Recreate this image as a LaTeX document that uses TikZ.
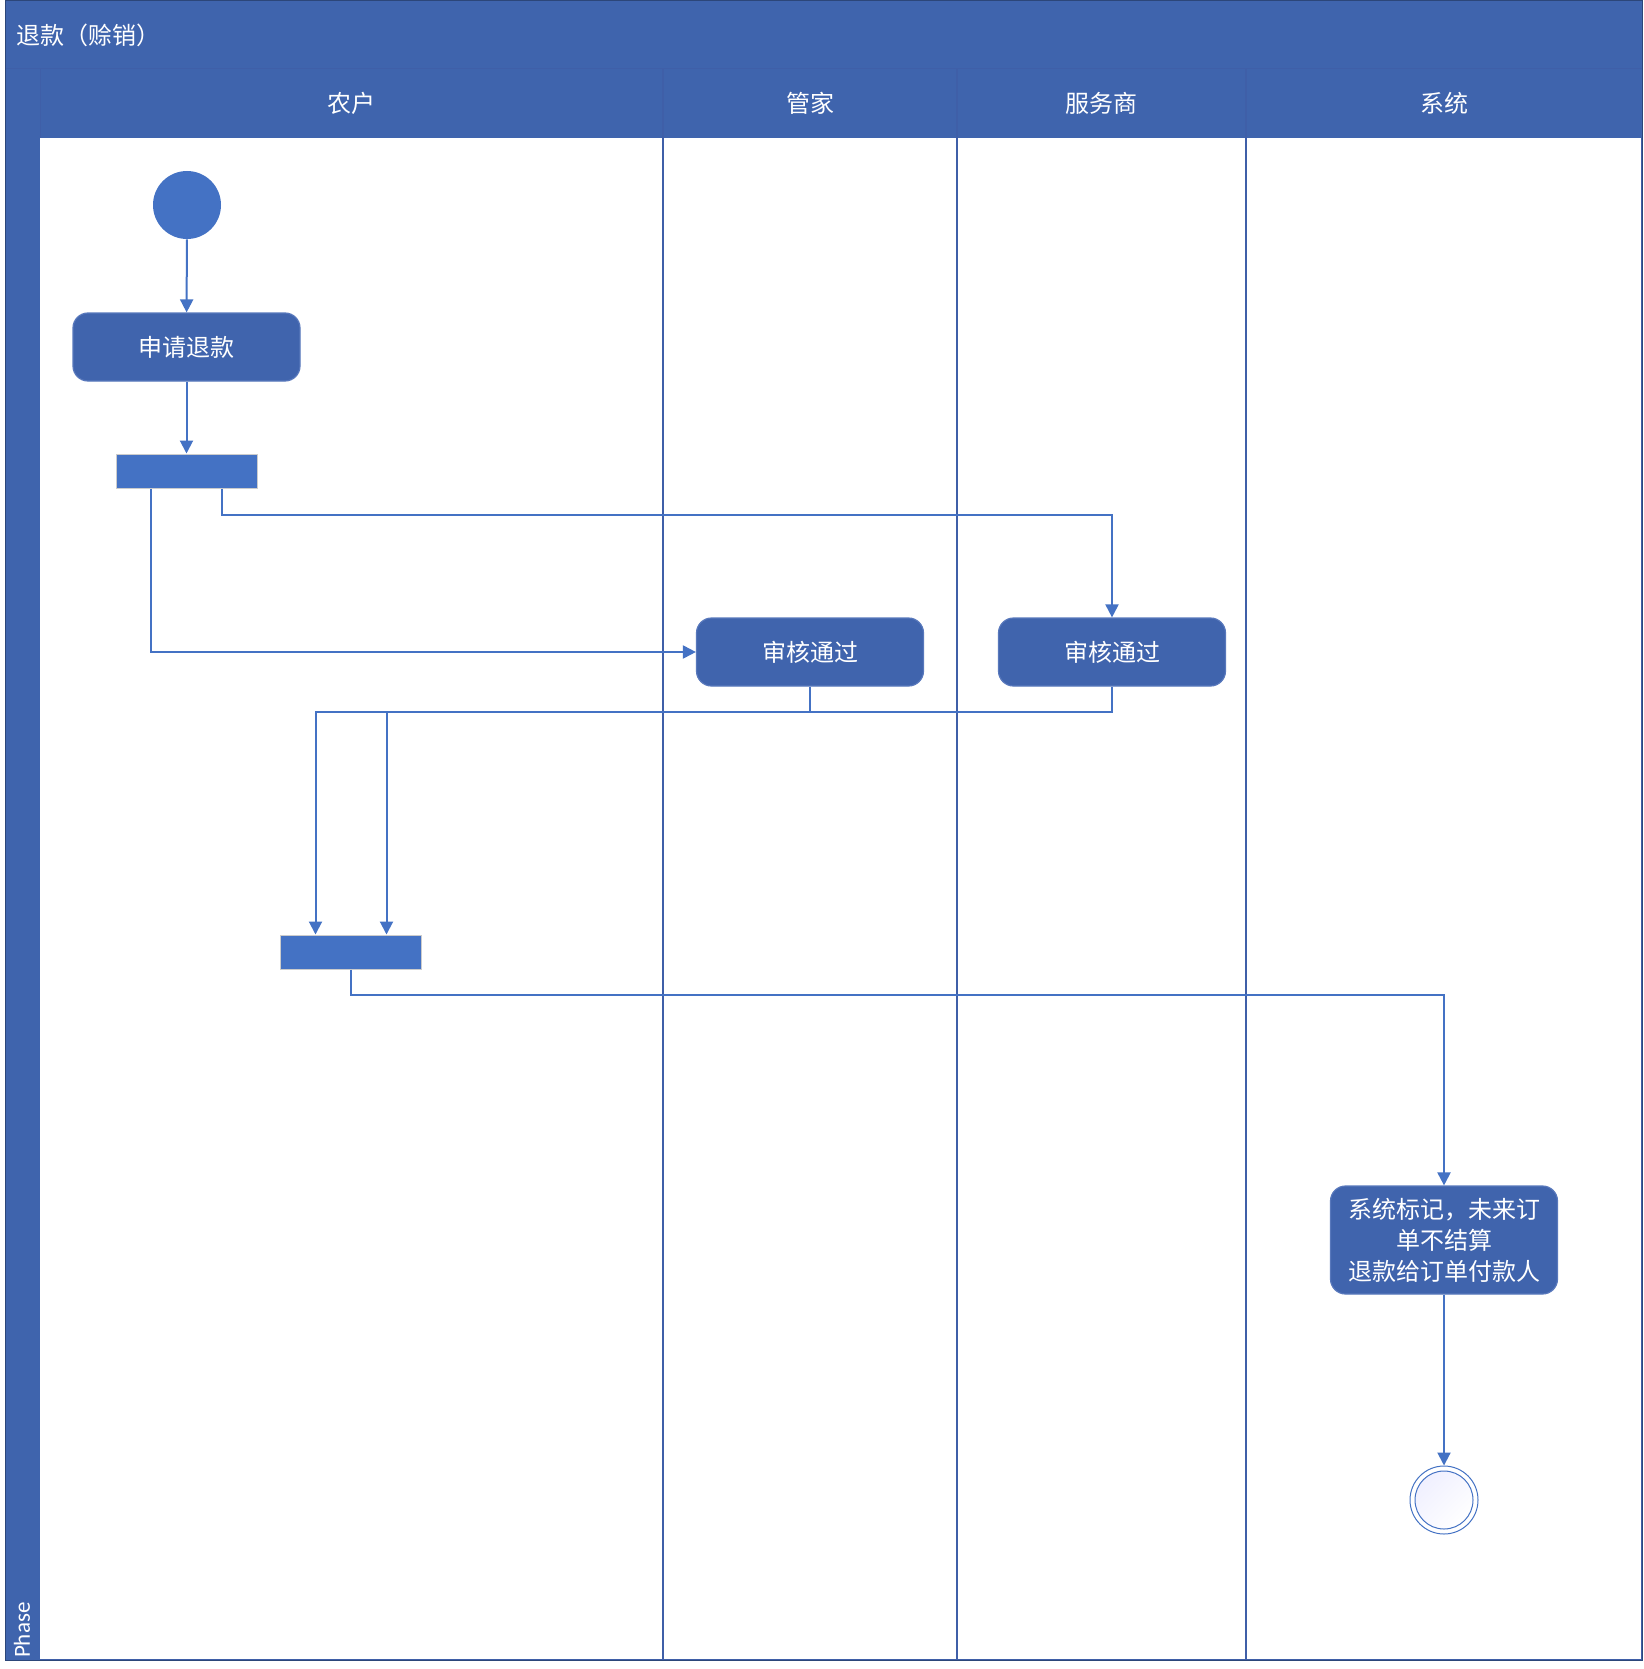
\documentclass[tikz,border=0pt]{standalone}
\usepackage{fontspec}
\setmainfont{Noto Sans CJK SC}
\newfontfamily\phasefont{Carlito}
\usetikzlibrary{arrows.meta,calc,positioning,shapes.geometric}
\definecolor{band}{HTML}{3F64AD}
\definecolor{lane}{HTML}{3F5FA8}
\definecolor{act}{HTML}{4064AD}
\definecolor{actline}{HTML}{5878BC}
\definecolor{flow}{HTML}{4472C4}
\begin{document}
\begin{tikzpicture}[x=0.5pt,y=-0.5pt,
  font=\fontsize{12pt}{15.5pt}\selectfont,
  actbox/.style={draw=actline,line width=0.6pt,fill=act,rounded corners=7.5pt,text=white,
     minimum width=113.5pt,minimum height=34pt,align=center,inner sep=2pt},
  barbox/.style={draw=black!20,line width=0.5pt,fill=flow,minimum width=70.5pt,minimum height=17pt,inner sep=0pt},
  conn/.style={draw=flow,line width=1pt},
  arr/.style={conn,-{Triangle[length=6.5pt,width=6.5pt]}},
  hdr/.style={text=white,anchor=center}]
\useasboundingbox (0,0) rectangle (1643,1669);
% bands
\fill[white] (40,138) rectangle (1642,1660);
\fill[band] (5,1) rectangle (1642,69);
\fill[band] (5,69) rectangle (40,1660);
\fill[band] (40,69) rectangle (1642,138);
\draw[lane,line width=0.5pt] (5,69) -- (1642,69);
\draw[lane,line width=0.5pt] (40,69) -- (40,138);
\draw[lane,line width=0.8pt] (40,1660) -- (1642,1660) -- (1642,138);
\draw[band!70!black,line width=0.5pt] (5,1) rectangle (1642,1660);
\foreach \x in {663,957,1246} \draw[lane,line width=0.75pt] (\x,69) -- (\x,1660);
% texts of bands
\node[text=white,anchor=west] (title) at (9,35) {退款（赊销）};
\node[hdr] (h1) at (351,103) {农户};
\node[hdr] (h2) at (810,103) {管家};
\node[hdr] (h3) at (1101,103) {服务商};
\node[hdr] (h4) at (1444,103) {系统};
\node[text=white,rotate=90,anchor=west,font=\phasefont\fontsize{11.5pt}{13pt}\selectfont] (phase) at (22,1665) {Phase};
% nodes
\node[circle,fill=flow,minimum size=34pt,inner sep=0pt] (start) at (187,205) {};
\node[actbox] (apply) at (186.5,347) {申请退款};
\node[barbox] (fork) at (186.5,471) {};
\node[actbox] (A) at (810,652) {审核通过};
\node[actbox] (B) at (1112,652) {审核通过};
\node[barbox] (join) at (351,952) {};
\node[actbox,minimum height=54pt] (sys) at (1444,1240) {系统标记，未来订\\单不结算\\退款给订单付款人};
\node[circle,draw=flow,line width=0.5pt,minimum size=34pt,inner sep=0pt] (end) at (1444,1500) {};
\shade[left color=blue!6,right color=white,shading angle=45,draw=flow,line width=0.5pt] (end.center) circle (14.5pt);
% coordinates on bars
\coordinate (f25) at ($(fork.south west)!0.25!(fork.south east)$);
\coordinate (f75) at ($(fork.south west)!0.75!(fork.south east)$);
\coordinate (j25) at ($(join.north west)!0.25!(join.north east)$);
\coordinate (j75) at ($(join.north west)!0.75!(join.north east)$);
% connectors
\draw[arr] (start) -- (apply);
\draw[arr] (apply) -- (fork);
\draw[arr] (f25) |- (A.west);
\draw[arr] (f75) -- ++(0,26) -| (B.north);
\draw[conn] (A.south) -- ++(0,25) coordinate (mA);
\draw[arr] (B.south) -- ++(0,25) -| (j25);
\draw[arr] (j75 |- mA) -- (j75);
\draw[arr] (join.south) -- ++(0,25) -| (sys.north);
\draw[arr] (sys.south) -- (end.north);
\end{tikzpicture}
\end{document}
